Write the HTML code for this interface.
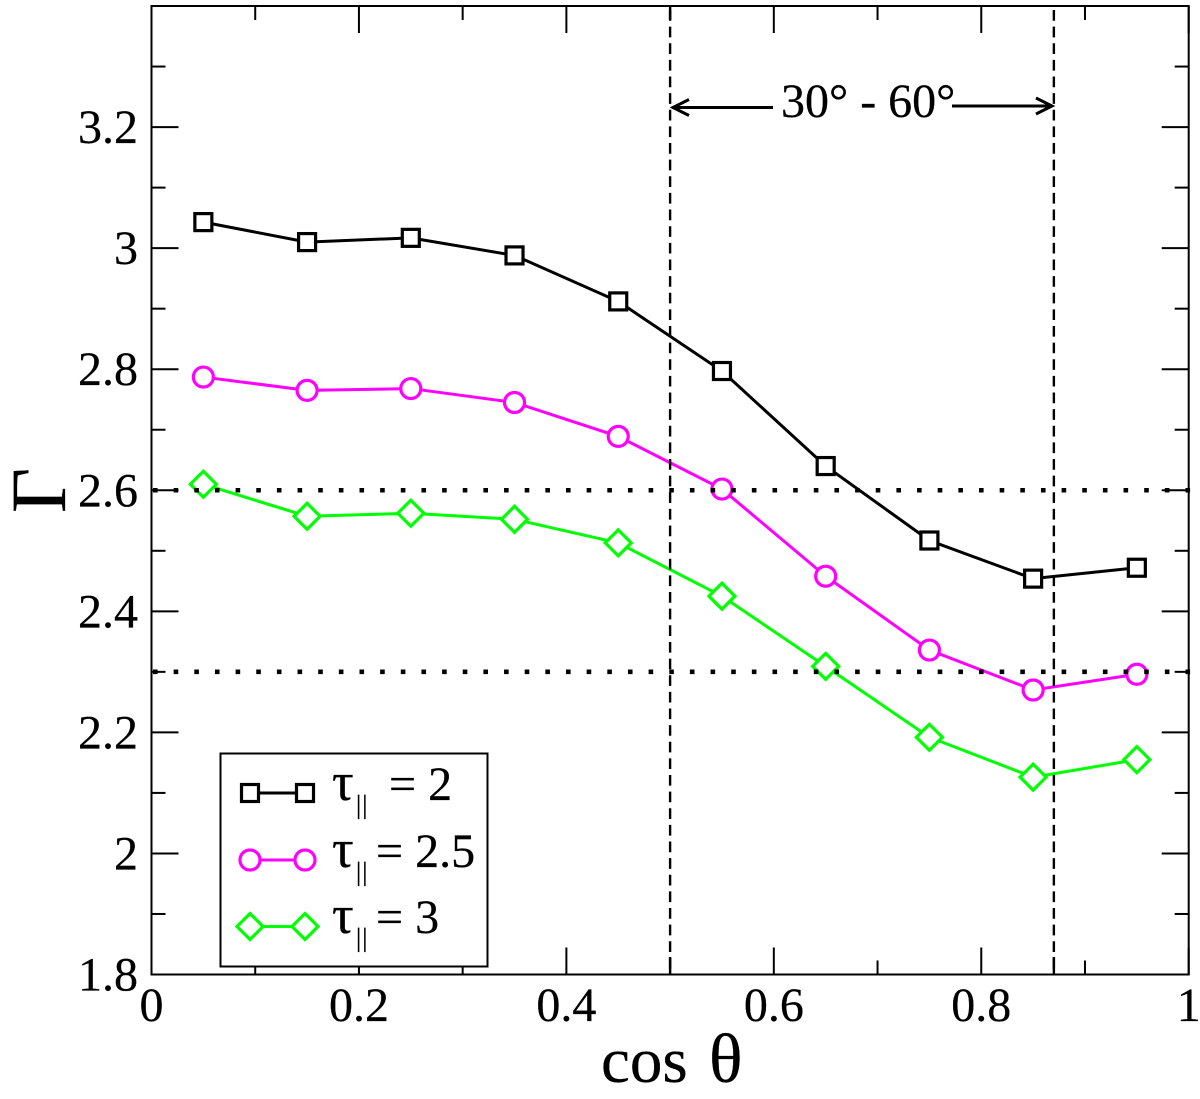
<!DOCTYPE html>
<html lang="en">
<head>
<meta charset="utf-8">
<title>Gamma versus cos theta</title>
<style>
html,body{margin:0;padding:0;background:#fff;width:1200px;height:1099px;overflow:hidden}
svg{display:block}
text{font-family:"Liberation Serif","DejaVu Serif",serif;fill:#000;stroke:#000;stroke-width:0.25}
</style>
</head>
<body>
<svg id="chart" xmlns="http://www.w3.org/2000/svg" width="1200" height="1099" viewBox="0 0 1200 1099">
  <g id="series-layer"></g>
  <g id="ref-layer"></g>
  <g id="tick-layer"></g>
  <rect x="151.5" y="6" width="1037.2" height="968.5" fill="none" stroke="#000" stroke-width="2"/>
  <g id="label-layer" font-size="48"></g>
  <text y="1082" font-size="65"><tspan x="601">cos</tspan><tspan x="709" font-size="70">θ</tspan></text>
  <text transform="translate(65,513) rotate(-90)" font-size="78">Γ</text>

  <g>
    <path d="M773 107.5H673M689 99.5L673 107.5L689 115.5" fill="none" stroke="#000" stroke-width="3"/>
    <path d="M952 106H1052M1036 98L1052 106L1036 114" fill="none" stroke="#000" stroke-width="3"/>
    <text x="781" y="117" font-size="48">30° - 60°</text>
  </g>

  <g>
    <rect x="220.5" y="753.5" width="267" height="213" fill="#fff" stroke="#000" stroke-width="2"/>
    <g>
      <path d="M250 793H305" stroke="#000" stroke-width="3" fill="none"/>
      <rect x="241.5" y="784.5" width="17" height="17" fill="#fff" stroke="#000" stroke-width="3.2"/>
      <rect x="296.5" y="784.5" width="17" height="17" fill="#fff" stroke="#000" stroke-width="3.2"/>
      <text x="332" y="800" font-size="54">τ</text>
      <text x="356" y="813.5" font-size="26" letter-spacing="1">||</text>
      <text x="389" y="800" font-size="48">= 2</text>
    </g>
    <g>
      <path d="M250 860H305" stroke="#ff00ff" stroke-width="3" fill="none"/>
      <circle cx="250" cy="860" r="10" fill="#fff" stroke="#ff00ff" stroke-width="3.2"/>
      <circle cx="305" cy="860" r="10" fill="#fff" stroke="#ff00ff" stroke-width="3.2"/>
      <text x="332" y="867" font-size="54">τ</text>
      <text x="356" y="880.5" font-size="26" letter-spacing="1">||</text>
      <text x="376" y="867" font-size="48">= 2.5</text>
    </g>
    <g>
      <path d="M250 926.5H305" stroke="#00ff00" stroke-width="3" fill="none"/>
      <path d="M250 913.5L263 926.5L250 939.5L237 926.5Z" fill="#fff" stroke="#00ff00" stroke-width="3.2"/>
      <path d="M305 913.5L318 926.5L305 939.5L292 926.5Z" fill="#fff" stroke="#00ff00" stroke-width="3.2"/>
      <text x="332" y="933" font-size="54">τ</text>
      <text x="356" y="946.5" font-size="26" letter-spacing="1">||</text>
      <text x="376" y="933" font-size="48">= 3</text>
    </g>
  </g>
</svg>
<script>
const cosTheta = [0.05, 0.15, 0.25, 0.35, 0.45, 0.55, 0.65, 0.75, 0.85, 0.95];
const gammaTau2 = [3.043, 3.010, 3.017, 2.988, 2.912, 2.797, 2.640, 2.517, 2.454, 2.472];
const gammaTau25 = [2.787, 2.765, 2.768, 2.745, 2.689, 2.602, 2.458, 2.336, 2.270, 2.296];
const gammaTau3 = [2.610, 2.557, 2.562, 2.552, 2.513, 2.425, 2.309, 2.192, 2.126, 2.155];
const xTickLabels = ["0", "0.2", "0.4", "0.6", "0.8", "1"];
const xTickValues = [0, 0.2, 0.4, 0.6, 0.8, 1];
const xMinorValues = [0.1, 0.3, 0.5, 0.7, 0.9];
const yTickLabels = ["1.8", "2", "2.2", "2.4", "2.6", "2.8", "3", "3.2"];
const yTickValues = [1.8, 2, 2.2, 2.4, 2.6, 2.8, 3, 3.2];
const yMinorValues = [1.9, 2.1, 2.3, 2.5, 2.7, 2.9, 3.1, 3.3];
const horizontalRefs = [2.6, 2.3];
const verticalRefs = [0.5, 0.87];

const NS = 'http://www.w3.org/2000/svg';
function xScale(v) { return 151.5 + v * 1037.2; }
function yScale(v) { return 974.5 - (v - 1.8) * 605.3; }
function make(tag, parent) {
  const el = document.createElementNS(NS, tag);
  parent.appendChild(el);
  return el;
}
function drawLine(parent, x1, y1, x2, y2, width) {
  const el = make('line', parent);
  el.setAttribute('x1', x1);
  el.setAttribute('y1', y1);
  el.setAttribute('x2', x2);
  el.setAttribute('y2', y2);
  el.setAttribute('stroke', '#000');
  el.setAttribute('stroke-width', width);
  return el;
}

const seriesLayer = document.getElementById('series-layer');
const refLayer = document.getElementById('ref-layer');
const tickLayer = document.getElementById('tick-layer');
const labelLayer = document.getElementById('label-layer');

function drawSeries(values, color, shape, name) {
  const g = make('g', seriesLayer);
  
  
  const line = make('polyline', g);
  
  
  line.setAttribute('fill', 'none');
  line.setAttribute('stroke', color);
  line.setAttribute('stroke-width', '3');
  line.setAttribute('points', values.map(function (v, i) {
    return xScale(cosTheta[i]) + ',' + yScale(v);
  }).join(' '));
  values.forEach(function (v, i) {
    const cx = xScale(cosTheta[i]);
    const cy = yScale(v);
    let m;
    if (shape === 'square') {
      m = make('rect', g);
      m.setAttribute('x', cx - 8.5);
      m.setAttribute('y', cy - 8.5);
      m.setAttribute('width', 17);
      m.setAttribute('height', 17);
    } else if (shape === 'circle') {
      m = make('circle', g);
      m.setAttribute('cx', cx);
      m.setAttribute('cy', cy);
      m.setAttribute('r', 10);
    } else {
      m = make('path', g);
      m.setAttribute('d', 'M' + cx + ' ' + (cy - 13) + 'L' + (cx + 13) + ' ' + cy + 'L' + cx + ' ' + (cy + 13) + 'L' + (cx - 13) + ' ' + cy + 'Z');
    }
    
    
    m.setAttribute('fill', '#fff');
    m.setAttribute('stroke', color);
    m.setAttribute('stroke-width', '3.2');
  });
}
drawSeries(gammaTau2, '#000', 'square', 'series-tau-2');
drawSeries(gammaTau25, '#ff00ff', 'circle', 'series-tau-2-5');
drawSeries(gammaTau3, '#00ff00', 'diamond', 'series-tau-3');

horizontalRefs.forEach(function (v) {
  const l = drawLine(refLayer, 153, yScale(v), 1200, yScale(v), 4.6);
  
  
  l.setAttribute('stroke-dasharray', '4.6 16.05');
});
verticalRefs.forEach(function (v, i) {
  const l = drawLine(refLayer, xScale(v), 6, xScale(v), 974.5, 2.4);
  
  
  l.setAttribute('stroke-dasharray', '10.7 5.93');
  l.setAttribute('stroke-dashoffset', '12.63');
  const stub = drawLine(refLayer, xScale(v), 957, xScale(v), 974.5, 2.4);
  
  
  if (i === 0) {
    const topStub = drawLine(refLayer, xScale(v), 6, xScale(v), 20, 2.4);
    
    
  }
});

function xTick(v, len) {
  const bottom = drawLine(tickLayer, xScale(v), 974.5, xScale(v), 974.5 - len, 2);
  
  
  const top = drawLine(tickLayer, xScale(v), 6, xScale(v), 6 + len, 2);
  
  
}
function yTick(v, len) {
  const left = drawLine(tickLayer, 151.5, yScale(v), 151.5 + len, yScale(v), 2);
  
  
  const right = drawLine(tickLayer, 1188.7, yScale(v), 1188.7 - len, yScale(v), 2);
  
  
}
xTickValues.forEach(function (v) { xTick(v, 27); });
xMinorValues.forEach(function (v) { xTick(v, 14); });
yTickValues.forEach(function (v) { yTick(v, 27); });
yMinorValues.forEach(function (v) { yTick(v, 14); });

xTickLabels.forEach(function (label, i) {
  const t = make('text', labelLayer);
  
  
  t.setAttribute('x', xScale(xTickValues[i]));
  t.setAttribute('y', 1021);
  t.setAttribute('text-anchor', 'middle');
  t.textContent = label;
});
yTickLabels.forEach(function (label, i) {
  const t = make('text', labelLayer);
  
  
  t.setAttribute('x', 138);
  t.setAttribute('y', yScale(yTickValues[i]) + 16);
  t.setAttribute('text-anchor', 'end');
  t.textContent = label;
});
</script>
</body>
</html>
